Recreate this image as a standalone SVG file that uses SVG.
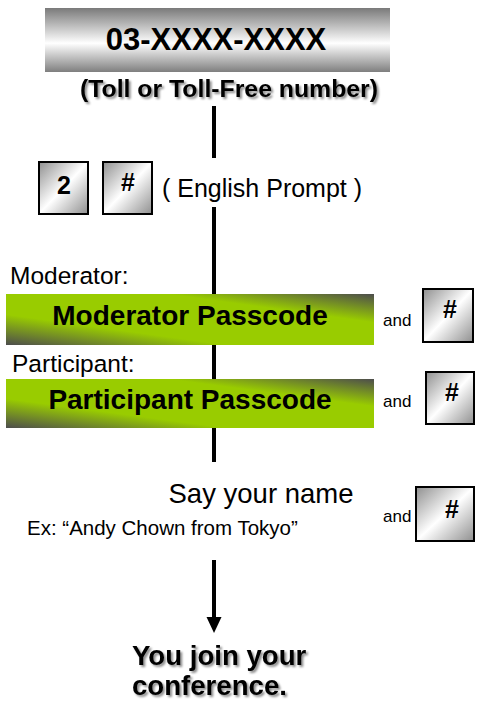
<svg xmlns="http://www.w3.org/2000/svg" width="477" height="706" viewBox="0 0 477 706">
<style>
text{font-family:"Liberation Sans",Arial,sans-serif;fill:#000}
.b{font-weight:bold}
.key{stroke:#000;stroke-width:2;fill:url(#keyG)}
.green{fill:url(#greenG)}
.conn{stroke:#000;stroke-width:4;fill:none}
.sh{filter:url(#shadow)}
.lbl{font-size:24.5px}
.and{font-size:17px}
.kt{font-size:25px;font-weight:bold;text-anchor:middle}
</style>
<defs>
<linearGradient id="topG" x1="0" y1="0" x2="0" y2="1">
<stop offset="0" stop-color="#7a7a7a"/>
<stop offset="0.55" stop-color="#ffffff"/>
<stop offset="1" stop-color="#7f7f7f"/>
</linearGradient>
<linearGradient id="keyG" x1="0" y1="0" x2="1" y2="1">
<stop offset="0" stop-color="#8f8f8f"/>
<stop offset="0.5" stop-color="#ffffff"/>
<stop offset="1" stop-color="#8f8f8f"/>
</linearGradient>
<linearGradient id="greenG" x1="0" y1="1" x2="1" y2="0">
<stop offset="0" stop-color="#4d4d4d"/>
<stop offset="0.3" stop-color="#99cc00"/>
<stop offset="0.72" stop-color="#99cc00"/>
<stop offset="1" stop-color="#4d4d4d"/>
</linearGradient>
<filter id="shadow" x="-10%" y="-20%" width="120%" height="150%">
<feDropShadow dx="2" dy="2" stdDeviation="1.2" flood-color="#000" flood-opacity="0.45"/>
</filter>
</defs>

<g id="connectors">
<line class="conn" x1="214" y1="106" x2="214" y2="158"/>
<line class="conn" x1="214" y1="207" x2="214" y2="462"/>
<line class="conn" x1="214" y1="560" x2="214" y2="619"/>
<polygon points="206.5,617 221.5,617 214,633" fill="#000"/>
</g>

<g id="number">
<rect x="45" y="8" width="345" height="64" fill="url(#topG)"/>
<text class="b" x="216" y="50" font-size="31" text-anchor="middle">03-XXXX-XXXX</text>
</g>
<g id="toll">
<text class="b sh" x="229" y="97" font-size="24.8" text-anchor="middle">(Toll or Toll-Free number)</text>
</g>

<g id="key2">
<rect class="key" x="39" y="162" width="49" height="52"/>
<text class="kt" x="64" y="194">2</text>
</g>
<g id="keyHash1">
<rect class="key" x="103" y="162" width="49" height="52"/>
<text class="kt" x="128" y="191">#</text>
</g>
<g id="english">
<text x="162" y="197" font-size="25">( English Prompt )</text>
</g>

<g id="moderator">
<text class="lbl" x="10" y="284">Moderator:</text>
<rect class="green" x="6" y="294" width="368" height="51"/>
<text class="b" x="190" y="325" font-size="28" text-anchor="middle">Moderator Passcode</text>
<text class="and" x="383" y="326">and</text>
<rect class="key" x="423" y="289" width="50" height="53"/>
<text class="kt" x="450" y="318">#</text>
</g>

<g id="participant">
<text class="lbl" x="12" y="372">Participant:</text>
<rect class="green" x="6" y="379" width="368" height="49"/>
<text class="b" x="190" y="409" font-size="28" text-anchor="middle">Participant Passcode</text>
<text class="and" x="383" y="407">and</text>
<rect class="key" x="426" y="372" width="48" height="52"/>
<text class="kt" x="452" y="401">#</text>
</g>

<g id="name">
<text x="261" y="503" font-size="27.5" text-anchor="middle">Say your name</text>
<text x="27" y="535" font-size="20.5">Ex: “Andy Chown from Tokyo”</text>
<text class="and" x="383" y="522">and</text>
<rect class="key" x="416" y="487" width="58" height="54"/>
<text class="kt" x="452" y="518">#</text>
</g>

<g id="join">
<text class="b sh" x="132" y="665" font-size="27.6">You join your</text>
<text class="b sh" x="132" y="695" font-size="27.6">conference.</text>
</g>
</svg>
